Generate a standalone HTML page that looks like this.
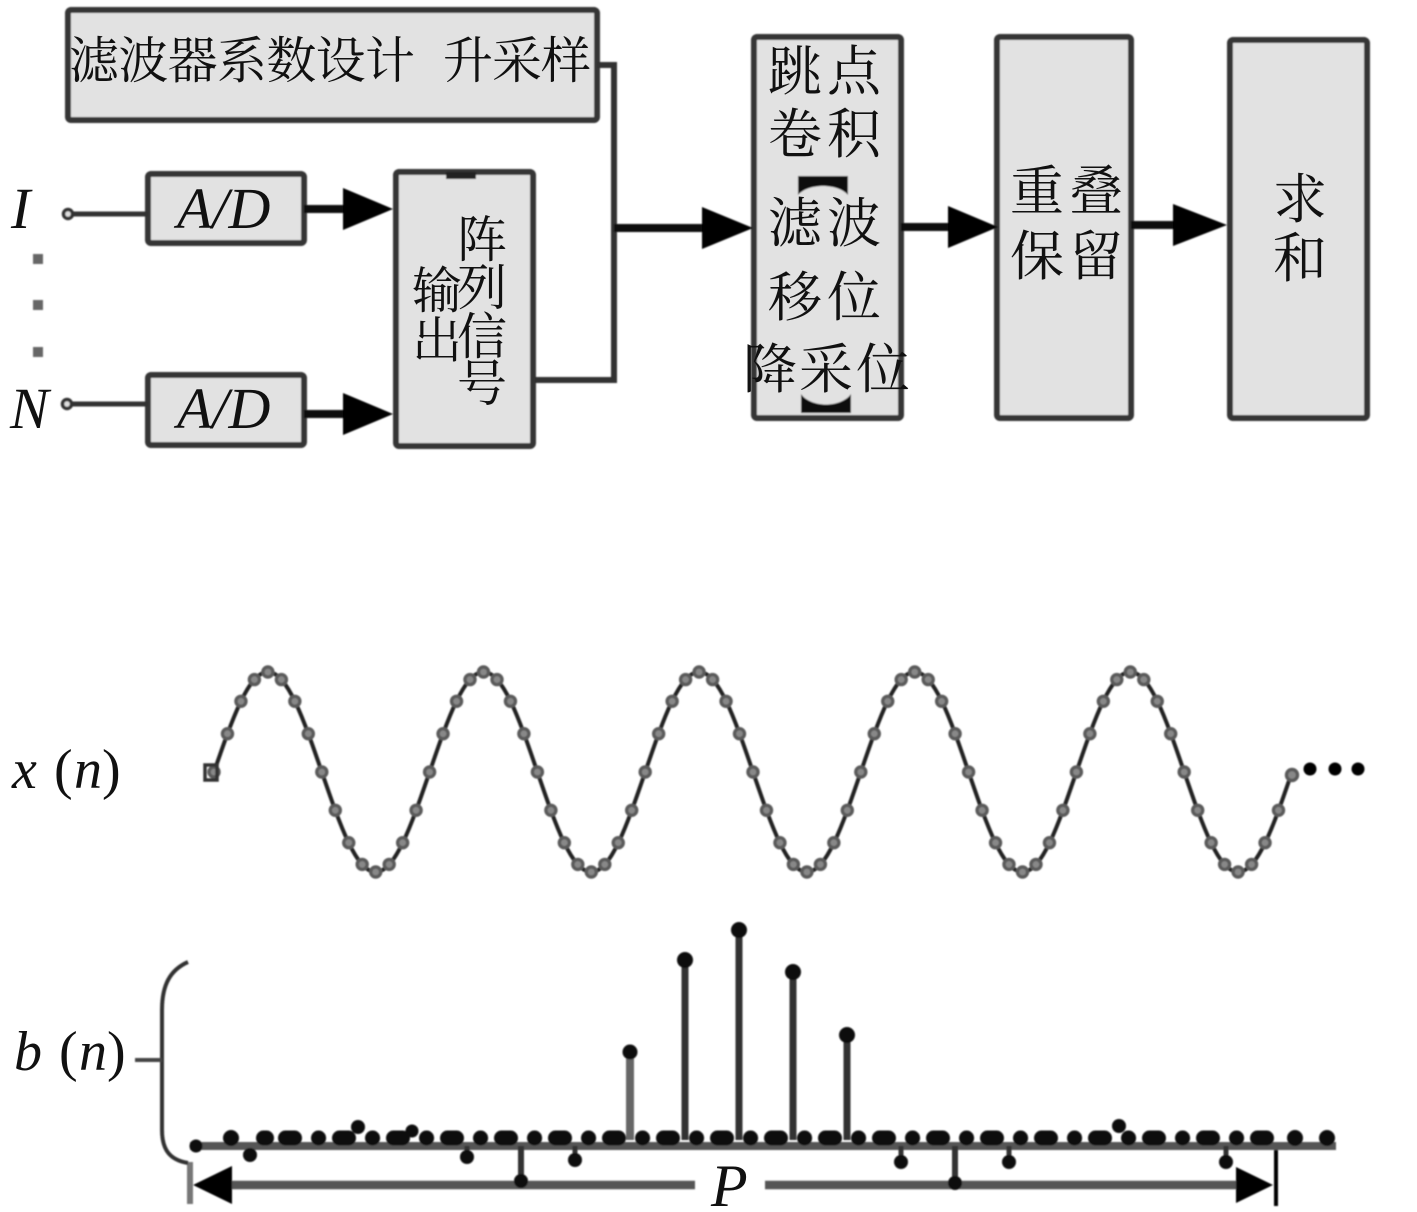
<!DOCTYPE html>
<html><head><meta charset="utf-8"><style>
html,body{margin:0;padding:0;background:#fff}
svg{display:block}
.c{font-family:"Liberation Serif","Noto Serif CJK SC",serif;font-size:54px;fill:#111}
.d{font-family:"Liberation Serif","Noto Serif CJK SC",serif;font-size:50px;fill:#111}
.i{font-family:"Liberation Serif",serif;font-style:italic;fill:#111}
.p{font-family:"Liberation Serif",serif;fill:#111}
</style></head><body>
<svg xmlns="http://www.w3.org/2000/svg" width="1417" height="1212" viewBox="0 0 1417 1212">
<defs>
<filter id="b" x="-5%" y="-5%" width="110%" height="110%"><feGaussianBlur stdDeviation="0.8"/></filter>
<g id="per" fill="#888" stroke="#5a5a5a" stroke-width="3.4">
<circle cx="0" cy="0" r="5"/><circle cx="13.475" cy="-38.3" r="5"/><circle cx="26.95" cy="-70.7" r="5"/><circle cx="40.4" cy="-92.4" r="5"/><circle cx="53.9" cy="-100" r="5"/><circle cx="67.4" cy="-92.4" r="5"/><circle cx="80.85" cy="-70.7" r="5"/><circle cx="94.3" cy="-38.3" r="5"/><circle cx="107.8" cy="0" r="5"/><circle cx="121.3" cy="38.3" r="5"/><circle cx="134.75" cy="70.7" r="5"/><circle cx="148.2" cy="92.4" r="5"/><circle cx="161.7" cy="100" r="5"/><circle cx="175.2" cy="92.4" r="5"/><circle cx="188.65" cy="70.7" r="5"/><circle cx="202.1" cy="38.3" r="5"/>
</g>
</defs>
<rect width="1417" height="1212" fill="#fff"/>
<g filter="url(#b)">
<!-- boxes -->
<g fill="#e2e2e2" stroke="#363636" stroke-width="6" stroke-linejoin="round">
<rect x="68" y="10" width="529" height="110" rx="3"/>
<rect x="148" y="174" width="156" height="69" rx="3"/>
<rect x="148" y="375" width="156" height="70" rx="3"/>
<rect x="396" y="172" width="137" height="274" rx="3"/>
<rect x="754" y="37" width="147" height="381" rx="3"/>
<rect x="997" y="37" width="134" height="381" rx="3"/>
<rect x="1230" y="40" width="137" height="378" rx="3"/>
</g>
<rect x="446" y="172" width="30" height="7" fill="#222"/>
<!-- connectors -->
<path d="M68 214H148M68 404H148" stroke="#333" stroke-width="5" fill="none"/>
<circle cx="68" cy="214" r="4.500" fill="#ddd" stroke="#333" stroke-width="3.500"/>
<circle cx="67" cy="404" r="4.500" fill="#ddd" stroke="#333" stroke-width="3.500"/>
<path d="M597 65H614V380H535" stroke="#333" stroke-width="6" fill="none"/>
<path d="M304 209H350M304 414H350M614 228H710M901 227H955M1131 225H1180" stroke="#111" stroke-width="8" fill="none"/>
<g fill="#000">
<path d="M343 188L393 209L343 230Z"/>
<path d="M343 393L393 414L343 435Z"/>
<path d="M702 207L753 228L702 249Z"/>
<path d="M948 206L998 227L948 248Z"/>
<path d="M1173 204L1227 225L1173 246Z"/>
</g>
<!-- brackets -->
<path d="M798 176H848V195C838 183 808 183 798 195Z" fill="#111"/>
<path d="M801 413H851V394C841 408 811 408 801 394Z" fill="#111"/>
<!-- ellipsis -->
<g fill="#666"><rect x="33" y="254" width="10" height="10"/><rect x="33" y="300" width="10" height="10"/><rect x="33" y="347" width="10" height="10"/></g>
<!-- sine -->
<path d="M214 772C231.6 720.8 248.3 672 267.9 672S304.200 720.8 321.8 772S355.900 872 375.700 872S412 823.200 429.600 772S463.600 672 483.500 672S519.800 720.800 537.400 772S571.400 872 591.300 872S627.600 823.200 645.200 772S679.200 672 699.100 672S735.400 720.800 753 772S787 872 806.900 872S843.200 823.200 860.800 772S894.800 672 914.700 672S951 720.800 968.600 772S1002.600 872 1022.500 872S1058.800 823.200 1076.400 772S1110.400 672 1130.300 672S1166.600 720.800 1184.200 772S1218.200 872 1238.100 872S1274.400 823.200 1292 772" fill="none" stroke="#222" stroke-width="4"/>
<use href="#per" x="214" y="772"/><use href="#per" x="429.6" y="772"/><use href="#per" x="645.2" y="772"/><use href="#per" x="860.8" y="772"/><use href="#per" x="1076.4" y="772"/>
<circle cx="1292" cy="775" r="5.500" fill="#888" stroke="#5a5a5a" stroke-width="3.400"/>
<rect x="205" y="765" width="12" height="15" fill="none" stroke="#333" stroke-width="3.500"/>
<g fill="#000"><circle cx="1310" cy="769" r="6.500"/><circle cx="1335" cy="769" r="6.500"/><circle cx="1358" cy="769" r="6.500"/></g>
<!-- stem baseline -->
<path d="M190 1146H1336" stroke="#555" stroke-width="8" fill="none"/>
<path d="M285.500 1138H1282" stroke="#0a0a0a" stroke-width="15" stroke-linecap="round" stroke-dasharray="9 24 0.1 20.900" fill="none"/>
<path d="M263.500 1138H266.500" stroke="#0a0a0a" stroke-width="15" stroke-linecap="round" fill="none"/>
<g stroke="#333" fill="none">
<path d="M630 1052V1140" stroke="#666" stroke-width="8"/>
<path d="M685 960V1140" stroke-width="7"/>
<path d="M739 930V1140" stroke-width="7"/>
<path d="M793 972V1140" stroke-width="7"/>
<path d="M847 1035V1140" stroke-width="7"/>
<path d="M467 1146V1157M575 1146V1160M901 1146V1162M1009 1146V1162M1226 1146V1162" stroke-width="5"/>
<path d="M521 1146V1181M955 1146V1183" stroke-width="6"/>
</g>
<path d="M190 1162V1204" stroke="#777" stroke-width="6"/>
<path d="M1276 1150V1206" stroke="#000" stroke-width="4"/>
<path d="M232 1185H695M765 1185H1240" stroke="#555" stroke-width="8.500" fill="none"/>
<path d="M193 1185L232 1166V1204Z" fill="#000"/>
<path d="M1273 1185L1236 1167V1203Z" fill="#000"/>
<g fill="#0a0a0a">
<circle cx="196" cy="1146" r="6.500"/><circle cx="231" cy="1138" r="8"/><circle cx="250" cy="1155" r="7"/>
<circle cx="358" cy="1127" r="7"/><circle cx="412" cy="1131" r="6.500"/><circle cx="467" cy="1157" r="7"/><circle cx="521" cy="1181" r="7"/><circle cx="575" cy="1160" r="7"/>
<circle cx="630" cy="1052" r="7.500"/><circle cx="685" cy="960" r="8"/><circle cx="739" cy="930" r="8"/><circle cx="793" cy="972" r="8"/><circle cx="847" cy="1035" r="8"/>
<circle cx="901" cy="1162" r="7"/><circle cx="955" cy="1183" r="7"/><circle cx="1009" cy="1162" r="7"/><circle cx="1119" cy="1126" r="7"/><circle cx="1226" cy="1162" r="7"/>
<circle cx="1295" cy="1138" r="8"/><circle cx="1327" cy="1138" r="8"/>
</g>
<!-- brace -->
<path d="M188 962C170 970 162 985 162 1010V1130C162 1150 170 1160 188 1163" fill="none" stroke="#333" stroke-width="4"/>
<path d="M135 1060H162" stroke="#444" stroke-width="4" fill="none"/>
</g>
<!-- labels -->
<text class="d" x="69" y="78" textLength="346" lengthAdjust="spacing">滤波器系数设计</text>
<text class="d" x="443" y="78" textLength="148" lengthAdjust="spacing">升采样</text>
<text class="d" x="457" y="257">阵</text>
<text class="d" x="457" y="305">列</text>
<text class="d" x="457" y="354">信</text>
<text class="d" x="457" y="401">号</text>
<text class="d" x="412" y="308">输</text>
<text class="d" x="412" y="358">出</text>
<text class="c" x="768" y="90">跳</text><text class="c" x="827" y="90">点</text>
<text class="c" x="768" y="153">卷</text><text class="c" x="827" y="153">积</text>
<text class="c" x="768" y="242">滤</text><text class="c" x="827" y="242">波</text>
<text class="c" x="768" y="316">移</text><text class="c" x="827" y="316">位</text>
<text class="c" x="743" y="388">降</text><text class="c" x="799" y="388">采</text><text class="c" x="856" y="388">位</text>
<text class="c" x="1010" y="210">重</text><text class="c" x="1069" y="210">叠</text>
<text class="c" x="1010" y="275">保</text><text class="c" x="1069" y="275">留</text>
<text class="c" x="1273" y="218">求</text>
<text class="c" x="1273" y="277">和</text>
<text class="i" x="177" y="228" font-size="58">A/D</text>
<text class="i" x="177" y="428" font-size="58">A/D</text>
<text class="i" x="11" y="228" font-size="58">I</text>
<text class="i" x="10" y="428" font-size="58">N</text>
<text class="i" x="12" y="788" font-size="56">x</text>
<text class="p" x="54" y="788" font-size="56">(</text>
<text class="i" x="74" y="788" font-size="56">n</text>
<text class="p" x="102" y="788" font-size="56">)</text>
<text class="i" x="14" y="1070" font-size="56">b</text>
<text class="p" x="59" y="1070" font-size="56">(</text>
<text class="i" x="79" y="1070" font-size="56">n</text>
<text class="p" x="107" y="1070" font-size="56">)</text>
<text class="i" x="711" y="1206" font-size="60">P</text>
</svg>
</body></html>
